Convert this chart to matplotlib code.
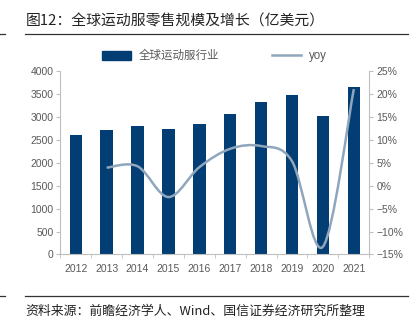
import numpy as np
import matplotlib
matplotlib.use('Agg')
import matplotlib.pyplot as plt
from matplotlib.path import Path
from matplotlib.patches import PathPatch
from matplotlib.lines import Line2D

plt.rcParams['font.family'] = ['Liberation Sans', 'Noto Sans CJK SC', 'DejaVu Sans']

years = ['2012', '2013', '2014', '2015', '2016', '2017', '2018', '2019', '2020', '2021']
sales = [2600, 2700, 2800, 2730, 2830, 3060, 3310, 3480, 3010, 3640]
yoy_years = [1, 2, 3, 4, 5, 6, 7, 8, 9]
yoy = [3.9, 4.2, -2.5, 4.0, 8.0, 8.6, 5.3, -13.3, 21.0]

bar_c = '#023e73'
line_c = '#8fa6bd'
txt_c = '#595959'
ax_c = '#bfbfbf'


def smooth_path(xs, ys):
    # Excel-like smoothed line: cubic bezier with Catmull-Rom control points
    xs = np.asarray(xs, float)
    ys = np.asarray(ys, float)
    n = len(xs)
    verts = [(xs[0], ys[0])]
    codes = [Path.MOVETO]
    for i in range(n - 1):
        p0 = i - 1 if i > 0 else i
        p3 = i + 2 if i + 2 < n else i + 1
        c1 = (xs[i] + (xs[i + 1] - xs[p0]) / 6, ys[i] + (ys[i + 1] - ys[p0]) / 6)
        c2 = (xs[i + 1] - (xs[p3] - xs[i]) / 6, ys[i + 1] - (ys[p3] - ys[i]) / 6)
        verts += [c1, c2, (xs[i + 1], ys[i + 1])]
        codes += [Path.CURVE4] * 3
    return Path(verts, codes)


fig = plt.figure(figsize=(4.15, 3.3), dpi=100)
ax = fig.add_axes([0.1453, 0.2288, 0.7445, 0.557])
x = np.arange(len(years))
ax.bar(x, sales, width=0.4, color=bar_c, zorder=2)
ax.set_xlim(-0.5, len(years) - 0.5)
ax.set_ylim(0, 4000)
ax.set_yticks(np.arange(0, 4001, 500))
ax.set_xticks(x)
ax.set_xticklabels(years)
ax.set_xticks(np.arange(-0.5, len(years), 1), minor=True)
ax.tick_params(axis='x', which='major', length=0, labelsize=7.5, colors=txt_c, pad=7)
ax.tick_params(axis='x', which='minor', length=3, color=ax_c, direction='out')
ax.tick_params(axis='y', length=3, color=ax_c, labelsize=7.5, labelcolor=txt_c, pad=2)
for s in ['top', 'right']:
    ax.spines[s].set_visible(False)
for s in ['left', 'bottom']:
    ax.spines[s].set_color(ax_c)
    ax.spines[s].set_linewidth(0.8)

ax2 = ax.twinx()
ax2.set_ylim(-15, 25)
ax2.set_yticks(np.arange(-15, 26, 5))
ax2.set_yticklabels([f'{v}%'.replace('-', '\u2212') for v in range(-15, 26, 5)])
ax2.tick_params(axis='y', length=3, color=ax_c, labelsize=7.5, labelcolor=txt_c, pad=2)
for s in ['top', 'left', 'bottom']:
    ax2.spines[s].set_visible(False)
ax2.spines['right'].set_color(ax_c)
ax2.spines['right'].set_linewidth(0.8)
ax2.add_patch(PathPatch(smooth_path(yoy_years, yoy), facecolor='none',
                        edgecolor=line_c, lw=1.8, zorder=3))

handles = [plt.Rectangle((0, 0), 1, 1, color=bar_c),
           Line2D([0], [0], color=line_c, lw=1.8)]
fig.legend(handles, ['全球运动服行业', 'yoy'], loc='center left',
           bbox_to_anchor=(102 / 415, 0.83), borderpad=0, borderaxespad=0,
           ncol=2, frameon=False, fontsize=8.3, labelcolor=txt_c, handlelength=2.5,
           handleheight=0.8, columnspacing=4.6, handletextpad=0.7)

fig.text(0.062, 0.935, '图12：全球运动服零售规模及增长（亿美元）', fontsize=10.7,
         family=['Noto Sans CJK SC'], va='center', color='#222222')
fig.add_artist(Line2D([0.06, 0.982], [0.897, 0.897], color='#333333', lw=0.9))
fig.add_artist(Line2D([0.0, 0.012], [0.897, 0.897], color='#333333', lw=0.9))
fig.add_artist(Line2D([0.06, 0.982], [0.103, 0.103], color='#333333', lw=0.9))
fig.add_artist(Line2D([0.0, 0.012], [0.103, 0.103], color='#333333', lw=0.9))
fig.text(0.062, 0.057, '资料来源：前瞻经济学人、Wind、国信证券经济研究所整理', fontsize=9.3,
         family=['Noto Sans CJK SC'], va='center', color='#222222')

fig.savefig('out.png', dpi=100)
